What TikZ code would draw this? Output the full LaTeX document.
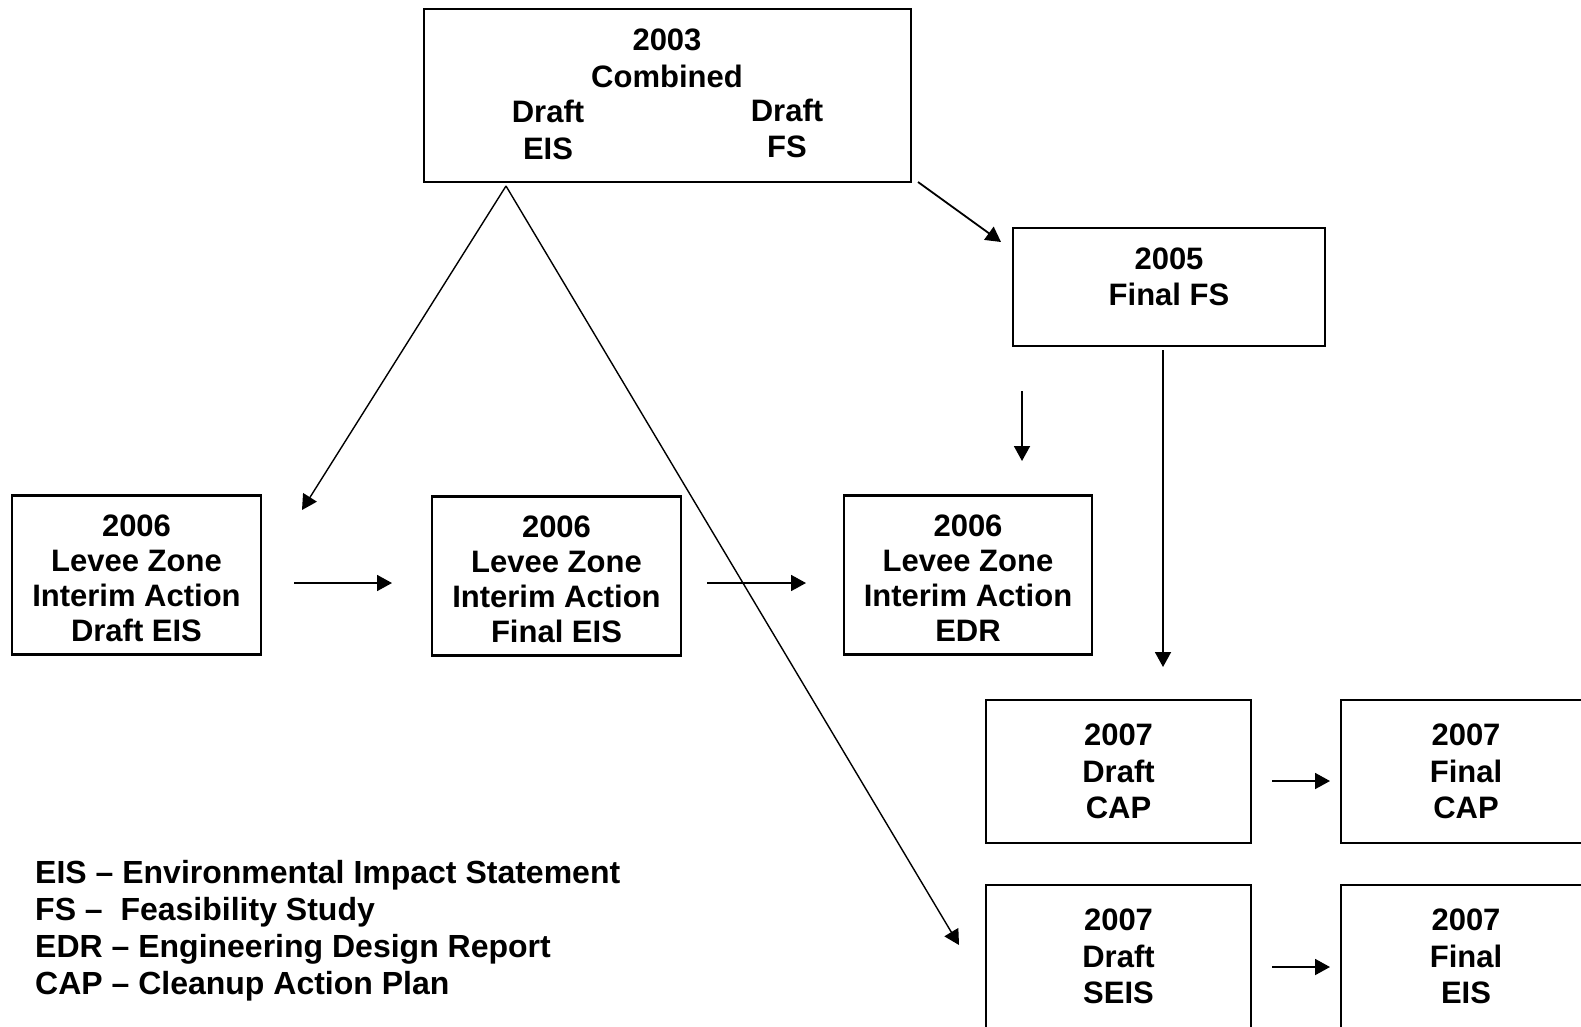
\documentclass[tikz,border=0pt]{standalone}
\usepackage{fontspec}
\setmainfont{Liberation Sans}
\usetikzlibrary{arrows.meta}

\begin{document}
\begin{tikzpicture}[x=1pt,y=-1pt]
	\clip (0,0) rectangle (1581,1026);
	% boxes
	\begin{scope}[every node/.style={draw,line width=2.2pt,rectangle,align=center,inner sep=0pt,font=\fontsize{31}{36.5}\selectfont\bfseries}]
	\node[minimum width=487pt,minimum height=173pt] at (667.5,95.5) (dr03){};
	\node[minimum width=312pt,minimum height=118pt,text depth=21pt] at (1169,287) (ffs05){2005\\Final FS};
	\node[minimum width=249pt,minimum height=159pt,text height=133pt,font=\fontsize{31}{35}\selectfont\bfseries] at (136.5,575) (dei06){2006\\Levee Zone\\Interim Action\\Draft EIS};
	\node[minimum width=249pt,minimum height=159pt,text height=133pt,font=\fontsize{31}{35}\selectfont\bfseries] at (556.5,576) (fei06){2006\\Levee Zone\\Interim Action\\Final EIS};
	\node[minimum width=248pt,minimum height=159pt,text height=133pt,font=\fontsize{31}{35}\selectfont\bfseries] at (968,575) (edr06){2006\\Levee Zone\\Interim Action\\EDR};
	\node[minimum width=265pt,minimum height=143pt] at (1118.5,771.5) (dcap07){2007\\Draft\\CAP};
	\node[minimum width=250pt,minimum height=143pt] at (1466,771.5) (fcap07){2007\\Final\\CAP};
	\node[minimum width=265pt,minimum height=143pt] at (1118.5,956.5) (dseis07){2007\\Draft\\SEIS};
	\node[minimum width=250pt,minimum height=143pt] at (1466,956.5) (feis07){2007\\Final\\EIS};
	\end{scope}
	
	% texts in the 2003 box and the legend
	\begin{scope}[every node/.style={align=center,inner sep=0pt,font=\fontsize{31}{36.5}\selectfont\bfseries}]
	\node at (667,58.5) (dr03t){2003\\Combined};
	\node at (548,130) (dr03e){Draft\\EIS};
	\node at (787,128.5) (dr03f){Draft\\FS};
	\node[anchor=west,align=left,font=\fontsize{32}{37}\selectfont\bfseries] at (35,931) (key){EIS – Environmental Impact Statement\\FS –\ \ Feasibility Study\\EDR – Engineering Design Report\\CAP – Cleanup Action Plan};
	\end{scope}
	
	% arrow ends
	\coordinate (s1) at (506,186);
	\coordinate (t1) at (302,510);
	\coordinate (t2) at (959,945);
	\coordinate (s3) at (918,182);
	\coordinate (t3) at (1001,242);
	\coordinate (s4) at (1022,391);
	\coordinate (t4) at (1022,461);
	\coordinate (s5) at (1163,350);
	\coordinate (t5) at (1163,667);
	\coordinate (s6) at (294,583);
	\coordinate (t6) at (392,583);
	\coordinate (s7) at (707,583);
	\coordinate (t7) at (806,583);
	\coordinate (s8) at (1272,781);
	\coordinate (t8) at (1330,781);
	\coordinate (s9) at (1272,967);
	\coordinate (t9) at (1330,967);
	
	\begin{scope}[-{Triangle[length=15pt,width=16pt]},line width=1.8pt]
	\path (s1) edge[line width=1.4pt] (t1) edge[line width=1.4pt] (t2);
	\path (s3) edge (t3);
	\path (s4) edge (t4);
	\path (s5) edge (t5);
	\path (s6) edge (t6);
	\path (s7) edge (t7);
	\path (s8) edge (t8);
	\path (s9) edge (t9);
	\end{scope}
\end{tikzpicture}
\end{document}
